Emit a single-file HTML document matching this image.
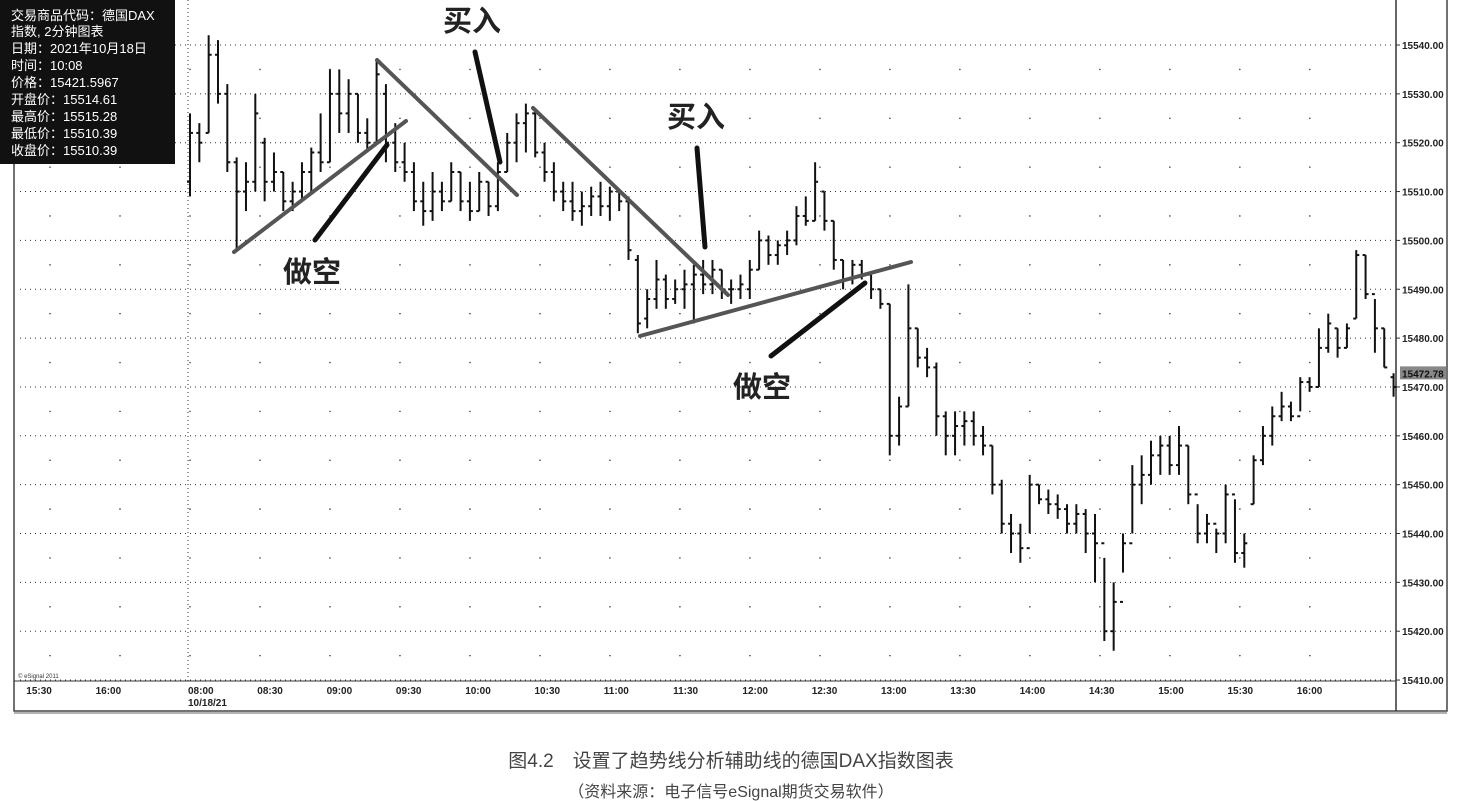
<!DOCTYPE html>
<html><head><meta charset="utf-8"><style>
body{margin:0;background:#fff;width:1463px;height:801px;overflow:hidden;font-family:"Liberation Sans","Noto Sans CJK SC",sans-serif}
</style></head><body>
<svg id="chart" width="1463" height="801" viewBox="0 0 1463 801" xmlns="http://www.w3.org/2000/svg" style="position:absolute;left:0;top:0">
<rect x="14" y="-2" width="1433" height="713" fill="#fff" stroke="#444" stroke-width="1.5"/>
<line x1="14" y1="713" x2="1447" y2="713" stroke="#999" stroke-width="1.5"/>
<g id="grid"></g>
<line x1="14" y1="681" x2="1396" y2="681" stroke="#333" stroke-width="1"/>
<line x1="1396" y1="0" x2="1396" y2="711" stroke="#333" stroke-width="1.5"/>
<line x1="188" y1="0" x2="188" y2="681" stroke="#333" stroke-dasharray="1,3"/>
<text x="18" y="678" font-size="6" fill="#333">© eSignal 2011</text>
<g id="yaxis"></g>
<g id="xaxis"></g>
<g id="bars"></g>
<g stroke="#555" stroke-width="4" stroke-linecap="round">
<line x1="234" y1="252" x2="406" y2="121"/>
<line x1="377" y1="60" x2="517" y2="195"/>
<line x1="533" y1="108" x2="728" y2="295"/>
<line x1="640" y1="336" x2="911" y2="262"/>
</g>
<g stroke="#111" stroke-width="5" stroke-linecap="round">
<line x1="475" y1="52" x2="500" y2="162"/>
<line x1="315" y1="240" x2="387" y2="145"/>
<line x1="697" y1="148" x2="705" y2="247"/>
<line x1="771" y1="356" x2="865" y2="283"/>
</g>
<g font-family="'Noto Sans CJK SC',sans-serif" font-weight="bold" font-size="29" fill="#222">
<text x="443" y="31">买入</text>
<text x="667" y="127">买入</text>
<text x="283" y="282">做空</text>
<text x="733" y="397">做空</text>
</g>
<g>
<rect x="0" y="0" width="175" height="164" fill="#111"/>
<g font-size="13" fill="#fff">
<text x="11" y="20">交易商品代码：德国DAX</text>
<text x="11" y="36">指数, 2分钟图表</text>
<text x="11" y="53">日期：2021年10月18日</text>
<text x="11" y="70">时间：10:08</text>
<text x="11" y="87">价格：15421.5967</text>
<text x="11" y="104">开盘价：15514.61</text>
<text x="11" y="121">最高价：15515.28</text>
<text x="11" y="138">最低价：15510.39</text>
<text x="11" y="155">收盘价：15510.39</text>
</g></g>
<text x="731" y="767" text-anchor="middle" font-size="19" fill="#444">图4.2　设置了趋势线分析辅助线的德国DAX指数图表</text>
<text x="731" y="797" text-anchor="middle" font-size="16" fill="#444">（资料来源：电子信号eSignal期货交易软件）</text>
</svg>
<script>
const yTicks=[15540,15530,15520,15510,15500,15490,15480,15470,15460,15450,15440,15430,15420,15410];
const xLabels=["15:30","16:00","08:00","08:30","09:00","09:30","10:00","10:30","11:00","11:30","12:00","12:30","13:00","13:30","14:00","14:30","15:00","15:30","16:00"];
const xLabelSlots=[-7,-4,0,3,6,9,12,15,18,21,24,27,30,33,36,39,42,45,48];
const lastPrice=15472.78;
const opens=[15512,15522,15522,15538,15530,15516,15510,15512,15520,15512,15514,15508,15510,15514,15518,15516,15530,15526,15530,15522,15520,15530,15520,15516,15514,15508,15506,15510,15508,15514,15508,15506,15512,15507,15514,15520,15524,15526,15518,15514,15510,15508,15506,15507,15509,15507,15510,15508,15496,15484,15488,15492,15488,15490,15491,15493,15491,15494,15490,15490,15490,15494,15500,15497,15499,15500,15505,15504,15510,15504,15496,15492,15495,15493,15490,15487,15460,15466,15482,15476,15474,15464,15460,15462,15463,15460,15458,15450,15442,15440,15437,15450,15447,15446,15445,15442,15444,15440,15438,15420,15426,15438,15450,15452,15456,15458,15454,15458,15448,15440,15442,15440,15448,15436,15446,15455,15460,15464,15466,15464,15471,15470,15478,15482,15478,15484,15497,15489,15482,15472];
const highs=[15526,15524,15542,15541,15532,15517,15516,15530,15521,15518,15514,15512,15516,15519,15526,15535,15535,15533,15530,15525,15537,15532,15524,15520,15516,15512,15514,15512,15516,15514,15512,15514,15512,15516,15522,15526,15528,15527,15520,15516,15512,15512,15510,15511,15512,15511,15510,15509,15497,15490,15496,15493,15492,15494,15495,15496,15496,15494,15492,15493,15496,15502,15501,15500,15502,15507,15509,15516,15510,15504,15496,15496,15496,15493,15490,15487,15468,15491,15482,15478,15475,15465,15465,15465,15465,15462,15458,15451,15444,15442,15452,15450,15449,15448,15446,15446,15445,15444,15435,15430,15440,15454,15456,15459,15460,15460,15462,15458,15446,15444,15441,15450,15447,15440,15456,15462,15466,15469,15467,15472,15472,15482,15485,15482,15483,15498,15497,15488,15482,15472.8];
const lows=[15509,15516,15522,15528,15514,15498,15506,15510,15508,15510,15506,15506,15508,15510,15514,15516,15522,15522,15520,15518,15520,15516,15514,15512,15506,15503,15504,15506,15508,15506,15504,15506,15505,15506,15514,15516,15518,15517,15512,15508,15506,15504,15503,15505,15505,15504,15506,15496,15481,15482,15486,15486,15487,15486,15483,15489,15489,15488,15487,15488,15488,15494,15495,15495,15497,15499,15503,15504,15502,15494,15490,15491,15492,15488,15486,15456,15458,15466,15474,15472,15460,15456,15456,15458,15458,15456,15448,15440,15436,15434,15440,15446,15444,15443,15440,15440,15436,15430,15418,15416,15432,15440,15446,15450,15452,15452,15452,15446,15438,15438,15436,15438,15434,15433,15446,15454,15458,15463,15463,15465,15469,15470,15477,15476,15478,15484,15488,15477,15474,15468];
const closes=[15522,15520,15538,15530,15516,15510,15512,15526,15512,15514,15508,15510,15514,15518,15516,15530,15526,15530,15522,15520,15534,15520,15516,15514,15508,15506,15510,15508,15514,15508,15506,15512,15507,15514,15520,15524,15526,15518,15514,15510,15508,15506,15507,15509,15507,15510,15508,15498,15483,15488,15492,15488,15490,15491,15493,15491,15494,15490,15490,15491,15494,15500,15497,15499,15500,15505,15504,15512,15504,15496,15492,15495,15493,15490,15487,15460,15466,15482,15476,15474,15464,15460,15462,15463,15460,15458,15450,15442,15440,15437,15450,15447,15446,15445,15442,15444,15440,15438,15420,15426,15438,15450,15452,15456,15458,15454,15458,15448,15440,15442,15440,15448,15436,15438,15455,15460,15464,15466,15464,15471,15470,15478,15483,15478,15482,15497,15489,15482,15474,15470];

const NS="http://www.w3.org/2000/svg";
function yScale(p){return 45+(15540-p)*4.885;}
function xBar(i){return 190+i*9.33;}
function xSlot(s){return 190+s*23.33;}
function xLabelPos(s){return 188+s*23.1;}
function mk(tag,attrs,parent){const e=document.createElementNS(NS,tag);for(const k in attrs)e.setAttribute(k,attrs[k]);parent.appendChild(e);return e;}
const grid=document.getElementById('grid'),ya=document.getElementById('yaxis'),xa=document.getElementById('xaxis'),bars=document.getElementById('bars');
yTicks.forEach(t=>{
  const y=yScale(t);
  const l=mk('line',{x1:20,y1:y,x2:1394,y2:y,stroke:'#333','stroke-width':1,'stroke-dasharray':'1,4'},grid);
  
  
  const tk=mk('line',{x1:1396,y1:y,x2:1400,y2:y,stroke:'#333'},ya);
  
  
  const tx=mk('text',{x:1402,y:y+4,'font-size':10,'font-weight':'bold',fill:'#222'},ya);
  tx.textContent=t.toFixed(2);
  
  
  if(t>15410){
    for(let s=-6;s<=48;s+=3){
      const d=mk('circle',{cx:xSlot(s),cy:yScale(t-5),r:0.8,fill:'#444'},grid);
      
      
    }
  }
});
const ly=yScale(lastPrice);
const lb=mk('rect',{x:1400,y:ly-7,width:46,height:13,fill:'#888'},ya);


const lt=mk('text',{x:1402,y:ly+4,'font-size':10,'font-weight':'bold',fill:'#111'},ya);
lt.textContent=lastPrice.toFixed(2);


xLabels.forEach((lab,i)=>{
  const x=xLabelPos(xLabelSlots[i]);
  const t=mk('text',{x:x,y:694,'font-size':10,'font-weight':'bold',fill:'#222'},xa);
  t.textContent=lab;
  
  
});
const dl=mk('text',{x:188,y:706,'font-size':10,'font-weight':'bold',fill:'#222'},xa);
dl.textContent="10/18/21";


for(let i=0;i<highs.length;i++){
  const x=xBar(i);
  const g=mk('g',{stroke:'#111','stroke-width':2},bars);
  
  
  mk('line',{x1:x,y1:yScale(highs[i]),x2:x,y2:yScale(lows[i])},g);
  mk('line',{x1:x-3,y1:yScale(opens[i]),x2:x,y2:yScale(opens[i])},g);
  mk('line',{x1:x,y1:yScale(closes[i]),x2:x+3,y2:yScale(closes[i])},g);
}
</script>
</body></html>
